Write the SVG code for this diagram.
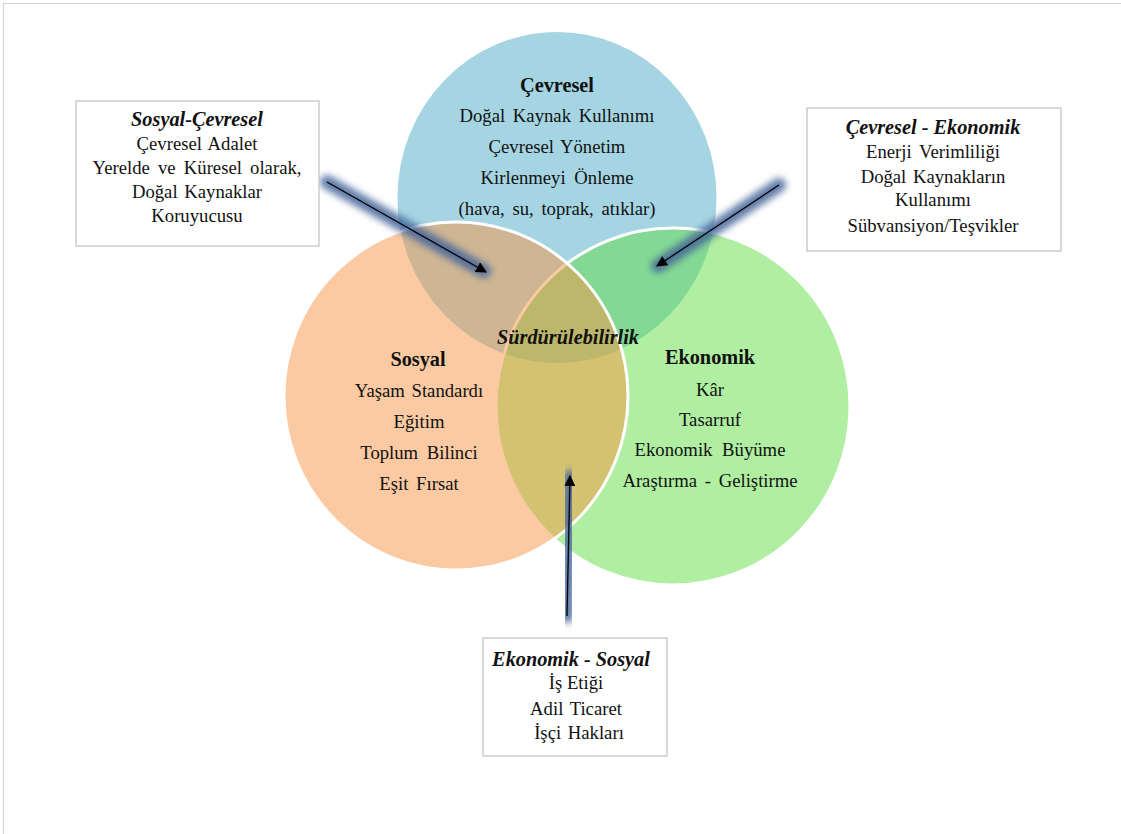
<svg xmlns="http://www.w3.org/2000/svg" width="1121" height="834" viewBox="0 0 1121 834">
<style>
.t{font-family:"Liberation Serif","Times New Roman",serif;font-size:18.7px;fill:#111;text-anchor:middle}
.b{font-weight:bold;font-size:20.3px}
.bi{font-weight:bold;font-style:italic;font-size:20.3px}
.box{fill:#fff;stroke:#c0c0c0;stroke-width:1.2}
.circ{stroke:#fff;stroke-width:3;fill-opacity:0.5}
.glow{stroke:#44659a;stroke-width:14;stroke-linecap:round;fill:none;opacity:0.85;filter:url(#blur)}
.arr{stroke:#000;stroke-width:1.3;fill:none;marker-end:url(#ah)}
</style>
<defs>
<filter id="blur" x="-50%" y="-50%" width="200%" height="200%"><feGaussianBlur stdDeviation="3.5"/></filter>
<marker id="ah" viewBox="0 0 10 10" refX="9" refY="5" markerWidth="11" markerHeight="11" markerUnits="userSpaceOnUse" orient="auto"><path d="M0,0 L10,5 L0,10 z" fill="#000"/></marker>
</defs>
<rect width="1121" height="834" fill="#fff"/>
<g id="page-border" stroke="#d4d4d4" stroke-width="1.2" fill="none">
<line x1="3.5" y1="3.5" x2="1121" y2="3.5"/>
<line x1="3.5" y1="3.5" x2="3.5" y2="834"/>
</g>
<g id="cevresel-circle">
<ellipse class="circ" cx="557" cy="197.5" rx="161" ry="167" fill="#4BACC6"/>
</g>
<g id="ekonomik-circle">
<ellipse class="circ" cx="673" cy="406.5" rx="177" ry="178.5" fill="#62DE44"/>
</g>
<g id="sosyal-circle">
<ellipse class="circ" cx="456" cy="396" rx="172" ry="174" fill="#F79646"/>
</g>
<g id="cevresel-text">
<text class="t b" x="557" y="92">Çevresel</text>
<text class="t" x="557" y="122" word-spacing="3">Doğal Kaynak Kullanımı</text>
<text class="t" x="557" y="153" word-spacing="2">Çevresel Yönetim</text>
<text class="t" x="557" y="184" word-spacing="4">Kirlenmeyi Önleme</text>
<text class="t" x="557" y="215" word-spacing="3">(hava, su, toprak, atıklar)</text>
</g>
<g id="sosyal-text">
<text class="t b" x="418" y="366">Sosyal</text>
<text class="t" x="419" y="397" word-spacing="2">Yaşam Standardı</text>
<text class="t" x="419" y="428">Eğitim</text>
<text class="t" x="419" y="459" word-spacing="4">Toplum Bilinci</text>
<text class="t" x="419" y="490" word-spacing="3">Eşit Fırsat</text>
</g>
<g id="ekonomik-text">
<text class="t b" x="710" y="364">Ekonomik</text>
<text class="t" x="710" y="396">Kâr</text>
<text class="t" x="710" y="426">Tasarruf</text>
<text class="t" x="710" y="456" word-spacing="5">Ekonomik Büyüme</text>
<text class="t" x="710" y="487" word-spacing="3">Araştırma  - Geliştirme</text>
</g>
<g id="surdurulebilirlik">
<text class="t bi" x="568" y="344">Sürdürülebilirlik</text>
</g>
<g id="connectors">
<line class="glow" x1="327" y1="182" x2="484" y2="271"/>
<line class="glow" x1="779" y1="185" x2="658" y2="266"/>
<line class="glow" x1="567" y1="616" x2="570" y2="477"/>
<line class="arr" x1="327" y1="182" x2="486" y2="272"/>
<line class="arr" x1="779" y1="185" x2="657" y2="266"/>
<line class="arr" x1="567" y1="616" x2="570" y2="476"/>
</g>
<g id="sosyal-cevresel-box">
<rect class="box" x="76" y="101" width="243" height="145"/>
<text class="t bi" x="197" y="126">Sosyal-Çevresel</text>
<text class="t" x="197" y="150" word-spacing="2">Çevresel Adalet</text>
<text class="t" x="197" y="174" word-spacing="3.5">Yerelde ve Küresel olarak,</text>
<text class="t" x="197" y="198" word-spacing="2">Doğal Kaynaklar</text>
<text class="t" x="197" y="222">Koruyucusu</text>
</g>
<g id="cevresel-ekonomik-box">
<rect class="box" x="807" y="108" width="254" height="143"/>
<text class="t bi" x="933" y="134">Çevresel - Ekonomik</text>
<text class="t" x="933" y="158" word-spacing="3">Enerji Verimliliği</text>
<text class="t" x="933" y="183" word-spacing="2">Doğal Kaynakların</text>
<text class="t" x="933" y="206">Kullanımı</text>
<text class="t" x="933" y="232">Sübvansiyon/Teşvikler</text>
</g>
<g id="ekonomik-sosyal-box">
<rect class="box" x="483" y="638" width="184" height="118"/>
<text class="t bi" x="571" y="666">Ekonomik - Sosyal</text>
<text class="t" x="576" y="689">İş Etiği</text>
<text class="t" x="576" y="715" word-spacing="2">Adil Ticaret</text>
<text class="t" x="579" y="739" word-spacing="2">İşçi Hakları</text>
</g>
</svg>
